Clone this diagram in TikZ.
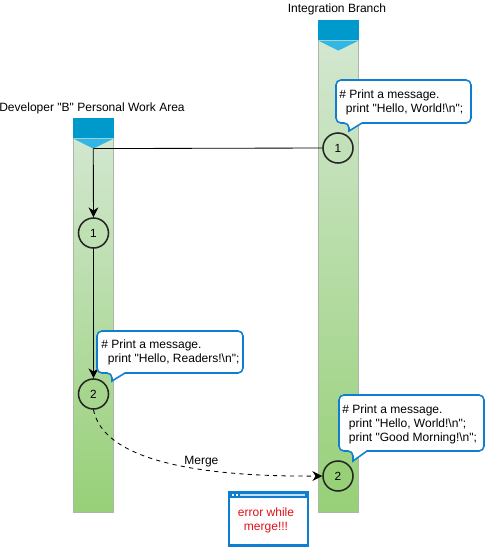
\documentclass[tikz,border=0pt]{standalone}
\usepackage{fontspec}
\setmainfont{Liberation Sans}[Ligatures=TeXOff]
\usepackage{tikz}
\usetikzlibrary{positioning,arrows.meta}
\usepackage{xcolor}
\definecolor{barlight}{RGB}{213,232,212}
\definecolor{bardark}{RGB}{151,208,119}
\definecolor{bargray}{RGB}{170,185,165}
\definecolor{headblue}{RGB}{0,153,204}
\definecolor{tipblue}{RGB}{51,181,229}
\definecolor{bubbleblue}{RGB}{15,125,208}
\definecolor{errorred}{RGB}{224,16,24}

\begin{document}
\begin{tikzpicture}[
  x=0.025cm,y=-0.025cm,
  bar/.style={rectangle,draw=bargray,top color=barlight,bottom color=bardark,
    minimum width=1.0cm,anchor=north,inner sep=0pt},
  head/.style={rectangle,fill=headblue,minimum width=1.0cm,minimum height=0.5cm,anchor=north,inner sep=0pt},
  title/.style={font=\fontsize{8.55}{10}\selectfont},
  num/.style={circle,draw=black!85,line width=1.1pt,minimum size=0.75cm,inner sep=0pt,font=\fontsize{8.4}{10}\selectfont},
  code/.style={anchor=west,align=left,inner sep=0pt,font=\fontsize{8.55}{10}\selectfont},
  bubble/.style={draw=bubbleblue,line width=1.1pt,fill=white,rounded corners=3.5pt},
  arr/.style={-{Stealth[length=7pt,width=7pt]},black,line width=0.6pt}
]
\useasboundingbox (0,0) rectangle (486,548);
% the two work areas
\node[bar,minimum height=9.85cm] (barB) at (93.5,118) {};
\node[head] (headB) at (93.5,118) {};
\fill[tipblue] (headB.south west) -- (headB.south east) -- ++(-20.5,10) coordinate (tipB) -- cycle;
\node[bar,minimum height=12.3cm] (barI) at (338.5,20) {};
\node[head] (headI) at (338.5,20) {};
\fill[tipblue] (headI.south west) -- (headI.south east) -- ++(-20.5,10) -- cycle;
\node[title] (titleB) at (92,108) {Developer "B" Personal Work Area};
\node[title] (titleI) at (337,9) {Integration Branch};
% commits
\node[num,fill=barlight!70!bardark] (i1) at (338,148) {1};
\node[num,fill=barlight!65!bardark] (b1) at (93.5,233) {1};
\node[num,fill=barlight!25!bardark] (b2) at (93.5,394) {2};
\node[num,fill=bardark] (i2) at (338,476) {2};
\draw[line width=0.6pt] (i1.west) -- (tipB);
\draw[arr] (tipB) -- (b1);
\draw[arr] (b1) -- (b2);
\draw[arr,dashed] (b2.south) .. controls (103,458) and (190,477) .. node[above,pos=0.65,title,yshift=-2pt] (mergeLbl) {Merge} (i2.west);
% speech bubbles
\draw[bubble] (349,123) [sharp corners] -- (349,131) -- (362,123) [rounded corners=3.5pt] -- (471,123) -- (471,80) -- (336,80) -- (336,123) -- cycle;
\node[code] (msgI) at (339,102) {\# Print a message.\\\hspace{0.55em}print "Hello, World!\textbackslash n";};
\draw[bubble] (112,373) [sharp corners] -- (112,381) -- (125,373) [rounded corners=3.5pt] -- (243,373) -- (243,331) -- (97,331) -- (97,373) -- cycle;
\node[code] (msgB) at (101,352.5) {\# Print a message.\\\hspace{0.55em}print "Hello, Readers!\textbackslash n";};
\draw[bubble] (353,451) [sharp corners] -- (353,461) -- (367,451) [rounded corners=3.5pt] -- (484,451) -- (484,395) -- (339,395) -- (339,451) -- cycle;
\node[code] (msgM) at (342,424) {\# Print a message.\\\hspace{0.55em}print "Hello, World!\textbackslash n";\\\hspace{0.55em}print "Good Morning!\textbackslash n";};
% error window
\draw[bubbleblue,line width=1.7pt,fill=white] (229,492) rectangle (308,545.5);
\fill[bubbleblue] (229,492) rectangle (308,498);
\fill[white!75!bubbleblue] (240,494) rectangle (305,495.5);
\foreach \dotx in {232,236}{\fill[white] (\dotx,494) rectangle ++(2,1.8);}
\node[align=center,text=errorred,inner sep=0pt,font=\fontsize{8.55}{10}\selectfont] (errTxt) at (266,520) {error while\\merge!!!};
\end{tikzpicture}
\end{document}
